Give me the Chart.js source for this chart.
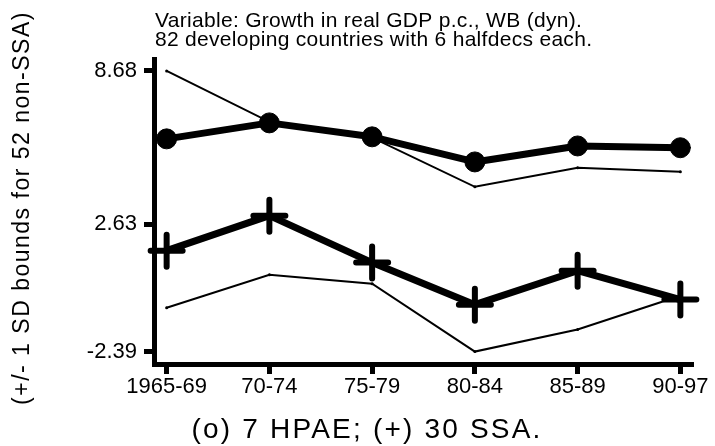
<!DOCTYPE html>
<html>
<head>
<meta charset="utf-8">
<style>
  html, body { margin: 0; padding: 0; background: #ffffff; }
  canvas { display: block; }
</style>
<script src="https://cdn.jsdelivr.net/npm/chart.js@4.4.1/dist/chart.umd.min.js"></script>
</head>
<body>
<canvas id="growthChart" width="715" height="446"></canvas>
<script>
// Half-decade periods on the horizontal axis
const periods = ['1965-69', '70-74', '75-79', '80-84', '85-89', '90-97'];

// Mean growth of real GDP per capita (percent per year)
const hpaeMean = [6.00, 6.63, 6.08, 5.09, 5.72, 5.65];
const ssaMean = [1.59, 2.97, 1.12, -0.54, 0.80, -0.34];

// +/- 1 SD bounds for the 52 non-SSA countries
const nonSsaUpper = [8.68, 6.67, 6.05, 4.11, 4.86, 4.70];
const nonSsaLower = [-0.66, 0.64, 0.29, -2.39, -1.52, -0.19];

// Labelled values on the vertical axis
const yTickValues = [-2.39, 2.63, 8.68];

const headerLines = [
  'Variable: Growth in real GDP p.c., WB (dyn).',
  '82 developing countries with 6 halfdecs each.'
];
const yTitle = '(+/- 1 SD bounds for 52 non-SSA)';
const xTitle = '(o) 7 HPAE; (+) 30 SSA.';

const FONT = '"Liberation Sans", Arial, Helvetica, sans-serif';

const toPoints = values => values.map((v, i) => ({ x: i, y: v }));

// Round line ends for the point markers (crosses)
const roundCaps = {
  id: 'roundCaps',
  beforeDatasetsDraw(chart) { chart.ctx.lineCap = 'round'; },
  afterDatasetsDraw(chart) { chart.ctx.lineCap = 'butt'; }
};

// Header, footer and rotated axis caption
const captions = {
  id: 'captions',
  afterDraw(chart) {
    const ctx = chart.ctx;
    ctx.save();
    ctx.fillStyle = '#000000';
    ctx.textBaseline = 'alphabetic';

    ctx.font = '21px ' + FONT;
    ctx.letterSpacing = '0.3px';
    ctx.textAlign = 'left';
    headerLines.forEach((line, i) => ctx.fillText(line, 155, 27 + i * 19));

    ctx.font = '28px ' + FONT;
    ctx.letterSpacing = '2.2px';
    ctx.textAlign = 'center';
    ctx.fillText(xTitle, 367, 438);

    ctx.translate(29, 208);
    ctx.rotate(-Math.PI / 2);
    ctx.font = '23px ' + FONT;
    ctx.letterSpacing = '1.5px';
    ctx.textAlign = 'center';
    ctx.fillText(yTitle, 0, 0);
    ctx.restore();
  }
};

const thinLine = values => ({
  data: toPoints(values),
  borderColor: '#000000',
  backgroundColor: '#000000',
  borderWidth: 2,
  pointRadius: 1.5,
  pointBorderWidth: 0,
  pointBackgroundColor: '#000000',
  clip: false
});

const axisGrid = {
  display: true,
  drawOnChartArea: false,
  drawTicks: true,
  tickLength: 10,
  tickWidth: 5,
  tickColor: '#000000'
};
const axisBorder = { display: true, width: 5, color: '#000000' };

new Chart(document.getElementById('growthChart'), {
  type: 'line',
  data: {
    datasets: [
      thinLine(nonSsaUpper),
      thinLine(nonSsaLower),
      {
        data: toPoints(hpaeMean),
        borderColor: '#000000',
        backgroundColor: '#000000',
        borderWidth: 7,
        borderCapStyle: 'round',
        borderJoinStyle: 'round',
        pointStyle: 'circle',
        pointRadius: 10,
        pointBorderWidth: 1,
        pointBackgroundColor: '#000000',
        pointBorderColor: '#000000',
        clip: false
      },
      {
        data: toPoints(ssaMean),
        borderColor: '#000000',
        backgroundColor: '#000000',
        borderWidth: 7,
        borderCapStyle: 'round',
        borderJoinStyle: 'round',
        pointStyle: 'cross',
        pointRadius: 16,
        pointBorderWidth: 6,
        pointBorderColor: '#000000',
        clip: false
      }
    ]
  },
  options: {
    responsive: false,
    animation: false,
    devicePixelRatio: 1,
    layout: { padding: { top: 59, right: 5, bottom: 0, left: 0 } },
    plugins: {
      legend: { display: false },
      tooltip: { enabled: false },
      title: { display: false }
    },
    scales: {
      x: {
        type: 'linear',
        min: -0.123,
        max: 5.123,
        afterBuildTicks: s => { s.ticks = periods.map((_, i) => ({ value: i })); },
        afterFit: s => { s.height = 82; s.paddingLeft = 0; s.paddingRight = 0; },
        ticks: {
          autoSkip: false,
          maxRotation: 0,
          color: '#000000',
          padding: 0,
          font: { family: FONT, size: 22 },
          callback: v => periods[v]
        },
        grid: axisGrid,
        border: axisBorder
      },
      y: {
        min: -2.88,
        max: 9.15,
        afterBuildTicks: s => { s.ticks = yTickValues.map(v => ({ value: v })); },
        afterFit: s => { s.width = 154; s.paddingTop = 0; s.paddingBottom = 0; },
        ticks: {
          color: '#000000',
          padding: 7,
          font: { family: FONT, size: 22 },
          callback: v => v.toFixed(2)
        },
        grid: axisGrid,
        border: axisBorder
      }
    }
  },
  plugins: [roundCaps, captions]
});
</script>
</body>
</html>
